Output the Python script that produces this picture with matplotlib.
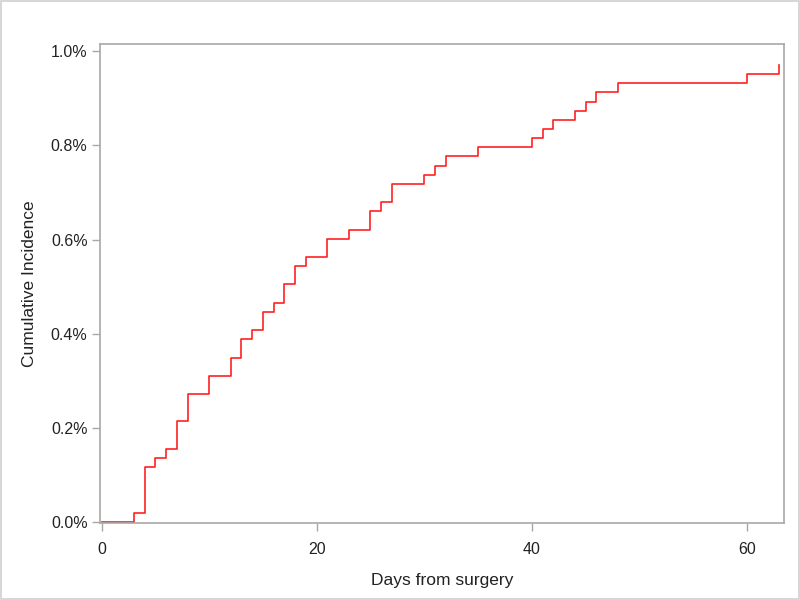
import numpy as np
import matplotlib
matplotlib.use('Agg')
from matplotlib import pyplot as plt
from matplotlib.ticker import FuncFormatter
from matplotlib.patches import Rectangle

# event days and cumulative incidence (%)
days = [0, 3, 4, 5, 6, 7, 8, 10, 12, 13, 14, 15, 16, 17, 18, 19, 21, 23, 25, 26,
        27, 30, 31, 32, 35, 40, 41, 42, 44, 45, 46, 48, 60, 63]
cum_inc = [0.0, 0.019, 0.117, 0.136, 0.155, 0.214, 0.272, 0.311, 0.349, 0.388,
           0.408, 0.446, 0.466, 0.505, 0.544, 0.563, 0.602, 0.621, 0.660, 0.680,
           0.718, 0.738, 0.757, 0.777, 0.796, 0.815, 0.835, 0.854, 0.874, 0.893,
           0.913, 0.932, 0.951, 0.971]

x_ticks = [0, 20, 40, 60]
y_ticks = [0.0, 0.2, 0.4, 0.6, 0.8, 1.0]

plt.rcParams['font.family'] = ['Liberation Sans', 'DejaVu Sans']

fig = plt.figure(figsize=(8, 6), dpi=100)
ax = fig.add_axes([0.125, 0.1283, 0.855, 0.7984])

ax.step(days, cum_inc, where='post', color='#ff2020', linewidth=1.2)

ax.set_xlim(-0.15, 63.45)
ax.set_ylim(-0.002, 1.0155)
ax.set_xticks(x_ticks)
ax.set_yticks(y_ticks)
ax.yaxis.set_major_formatter(FuncFormatter(lambda v, p: f'{v:.1f}%'))

for s in ax.spines.values():
    s.set_color('#a8a8a8')
    s.set_linewidth(1.2)
ax.tick_params(direction='out', length=6, width=1.0, color='#a8a8a8',
               labelsize=11.5, labelcolor='#222222')
ax.tick_params(axis='x', pad=8)
ax.tick_params(axis='y', pad=3)

ax.set_xlabel('Days from surgery', fontsize=12.5, color='#222222', labelpad=11)
ax.set_ylabel('Cumulative Incidence', fontsize=12.5, color='#222222', labelpad=10)

# light border around the whole picture
fig.patches.append(Rectangle((0.001, 0.001), 0.998, 0.997, transform=fig.transFigure,
                             fill=False, edgecolor='#d0d0d0', linewidth=1.2))

plt.savefig('out.png', dpi=100)
